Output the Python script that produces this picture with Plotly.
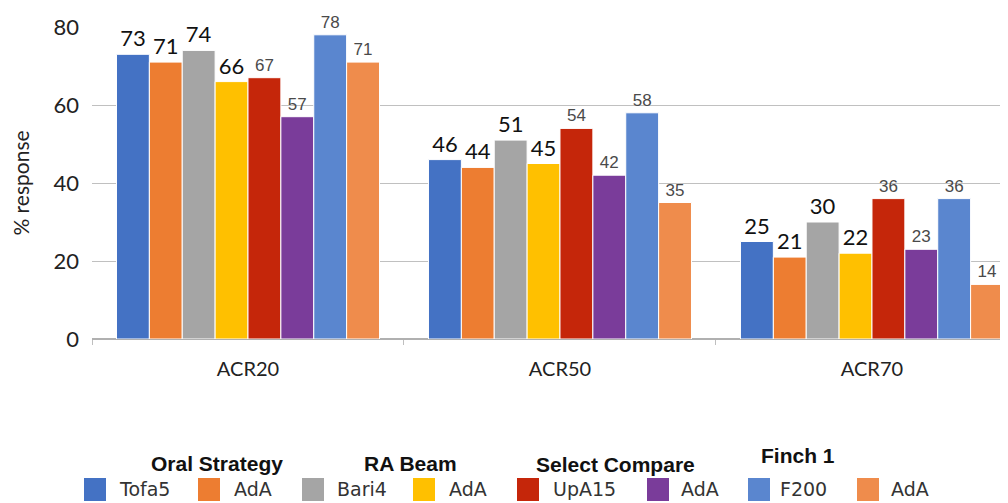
import plotly.graph_objects as go

categories = ["ACR20", "ACR50", "ACR70"]
series_names = ["Tofa5", "AdA", "Bari4", "AdA", "UpA15", "AdA", "F200", "AdA"]
group_titles = ["Oral Strategy", "RA Beam", "Select Compare", "Finch 1"]
tofa5 = [73, 46, 25]
ada_oral = [71, 44, 21]
bari4 = [74, 51, 30]
ada_beam = [66, 45, 22]
upa15 = [67, 54, 36]
ada_select = [57, 42, 23]
f200 = [78, 58, 36]
ada_finch = [71, 35, 14]
y_ticks = [0, 20, 40, 60, 80]

series_values = [tofa5, ada_oral, bari4, ada_beam, upa15, ada_select, f200, ada_finch]
colors = ["#4472C4", "#ED7D31", "#A5A5A5", "#FFC000", "#C5260A", "#7A3C9A", "#5A86CF", "#EF8C4C"]

# page body has an 8px margin; figure is sized to the visible area
OFF = 8
W, H = 1008 - OFF, 503 - OFF
L, R, T, B = 92 - OFF, 0, 27 - OFF, 164
pw, ph = W - L - R, H - T - B

def px(xs):
    return (xs - OFF - L) / pw

def py(ys):
    return (H - B - (ys - OFF)) / ph

fig = go.Figure()
for i, (name, vals, col) in enumerate(zip(series_names, series_values, colors)):
    big = i < 4
    fig.add_trace(go.Bar(
        x=categories, y=vals, name=name,
        marker=dict(color=col, line=dict(color="white", width=1)),
        text=[str(v) for v in vals],
        textposition="outside",
        textfont=dict(family="Lato, sans-serif" if big else "Liberation Sans, Arial",
                      size=22 if big else 17,
                      color="#111111" if big else "#4a4a4a"),
        cliponaxis=False, showlegend=False,
    ))

# custom legend (swatches + labels)
swatch_x = [84, 198, 302, 413, 517, 647, 748, 857]
label_x = [117, 232, 335, 447, 551, 679, 778, 889]
for i, name in enumerate(series_names):
    fig.add_shape(type="rect", xref="paper", yref="paper",
                  x0=px(swatch_x[i]), x1=px(swatch_x[i] + 22),
                  y0=py(501), y1=py(478),
                  fillcolor=colors[i], line=dict(width=0))
    fig.add_annotation(xref="paper", yref="paper", x=px(label_x[i]), y=py(489),
                       text=name, showarrow=False, xanchor="left", yanchor="middle",
                       font=dict(family="DejaVu Sans", size=19, color="#333333"))

title_x = [217, 410, 615, 798]
title_y = [463, 463, 465, 455]
for t, xx, yy in zip(group_titles, title_x, title_y):
    fig.add_annotation(xref="paper", yref="paper", x=px(xx), y=py(yy),
                       text="<b>%s</b>" % t, showarrow=False, xanchor="center", yanchor="middle",
                       font=dict(family="Liberation Sans, Arial", size=21, color="#111111"))

fig.update_layout(
    width=W, height=H,
    margin=dict(l=L, r=R, t=T, b=B),
    paper_bgcolor="white", plot_bgcolor="white",
    barmode="group", bargap=0.157, bargroupgap=0,
    showlegend=False,
    xaxis=dict(range=[-0.5, 2.436], tickson="boundaries", ticks="outside", ticklen=5,
               tickcolor="#bfbfbf", showgrid=False, showline=False, ticklabelstandoff=16,
               tickfont=dict(family="Lato, sans-serif", size=20, color="#222222")),
    yaxis=dict(range=[0, 80], tickvals=y_ticks, showgrid=True, gridcolor="#c0c0c0", gridwidth=1,
               zeroline=True, zerolinecolor="#b0b0b0", zerolinewidth=1.5,
               showline=False,
               ticks="", ticklabelstandoff=12,
               tickfont=dict(family="Lato, sans-serif", size=22, color="#222222"),
               title=dict(text="% response", standoff=20,
                          font=dict(family="Lato, sans-serif", size=21, color="#222222"))),
)

fig.write_html("out.html")
